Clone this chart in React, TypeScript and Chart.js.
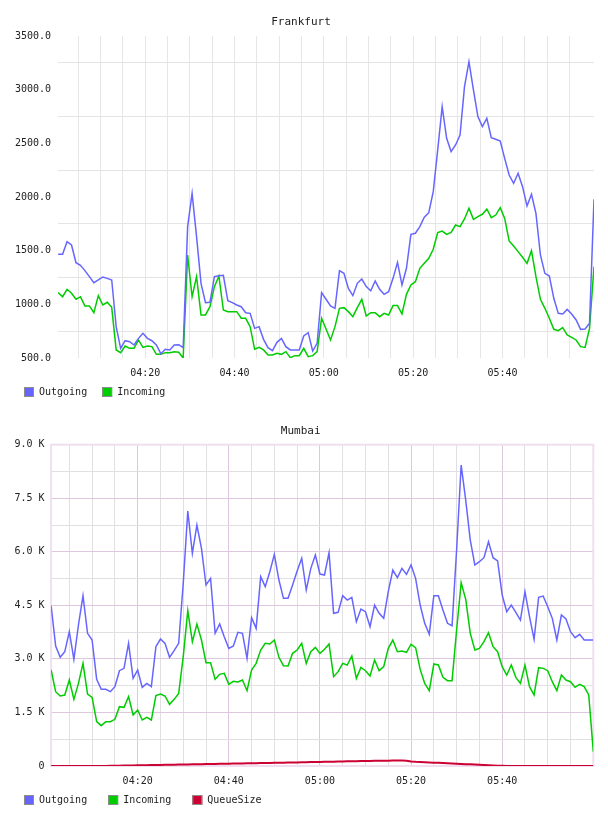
import React, { useEffect, useRef } from 'react';
import { Chart, registerables } from 'chart.js';

Chart.register(...registerables);

const FONT = '"DejaVu Sans Mono", "Liberation Mono", monospace';
const TEXT = '#222222';

const OUT_COLOR = '#6666ff';
const IN_COLOR = '#00cc00';
const QUEUE_COLOR = '#cc0033';

// Time axis, in minutes after 04:00
const gridMinutes = [5, 10, 15, 20, 25, 30, 35, 40, 45, 50, 55, 60, 65, 70, 75, 80, 85, 90, 95, 100, 105, 110, 115];
const labelMinutes = [20, 40, 60, 80, 100];

// ---- Frankfurt: one sample per minute, first sample at 04:00:30 ----
const frankfurtStart = 0.5;
const frankfurtOutgoing = [
  1466, 1466, 1584, 1553, 1388, 1363, 1314, 1258, 1202, 1227,
  1255, 1242, 1227, 792, 590, 661, 652, 621, 683, 730,
  683, 661, 621, 540, 581, 575, 621, 624, 596, 1724,
  2034, 1631, 1196, 1016, 1019, 1258, 1267, 1270, 1034, 1016,
  994, 978, 922, 916, 776, 792, 674, 596, 568, 646,
  683, 606, 575, 575, 575, 705, 736, 565, 637, 1109,
  1047, 985, 963, 1314, 1289, 1149, 1081, 1196, 1236, 1165,
  1127, 1217, 1140, 1093, 1118, 1242, 1391, 1180, 1336, 1652,
  1662, 1724, 1811, 1854, 2050, 2438, 2842, 2547, 2423, 2485,
  2578, 3028, 3261, 2997, 2749, 2656, 2733, 2553, 2538, 2522,
  2360, 2205, 2128, 2221, 2096, 1916, 2025, 1848, 1460, 1289,
  1264, 1056, 916, 910, 953, 910, 854, 767, 770, 823,
  1978,
];
const frankfurtIncoming = [
  1109, 1071, 1140, 1103, 1047, 1071, 985, 985, 922, 1081,
  994, 1019, 972, 575, 550, 612, 590, 590, 668, 599,
  612, 606, 534, 534, 550, 550, 559, 553, 500, 1460,
  1071, 1258, 901, 901, 978, 1165, 1264, 947, 932, 932,
  932, 870, 870, 792, 581, 599, 575, 528, 528, 543,
  534, 559, 503, 522, 522, 590, 512, 522, 559, 870,
  770, 668, 792, 963, 969, 932, 885, 969, 1047, 891,
  922, 922, 885, 916, 901, 988, 988, 910, 1093, 1180,
  1211, 1336, 1382, 1429, 1513, 1668, 1683, 1652, 1671, 1739,
  1724, 1795, 1895, 1792, 1817, 1839, 1888, 1808, 1832, 1901,
  1801, 1590, 1544, 1491, 1438, 1382, 1500, 1258, 1047, 963,
  870, 767, 755, 783, 714, 693, 668, 606, 599, 776,
  1351,
];
const frankfurtLabelValues = [500, 1000, 1500, 2000, 2500, 3000, 3500];
const frankfurtGridValues = [750, 1250, 1750, 2250, 2750, 3250];

// ---- Mumbai: one sample per minute, 04:01 .. 06:00 ----
const mumbaiStart = 1;
const mumbaiOutgoing = [
  4491, 3361, 3044, 3202, 3762, 2988, 3949, 4771, 3716, 3529,
  2427, 2147, 2147, 2082, 2222, 2670, 2735, 3436, 2455, 2689,
  2203, 2315, 2222, 3342, 3557, 3436, 3044, 3230, 3436, 5116,
  7142, 5956, 6750, 6096, 5069, 5256, 3716, 3977, 3622, 3296,
  3361, 3744, 3716, 3016, 4155, 3856, 5303, 5023, 5443, 5928,
  5209, 4696, 4696, 5069, 5462, 5816, 4929, 5536, 5910, 5378,
  5350, 5975, 4276, 4304, 4771, 4649, 4724, 4042, 4397, 4323,
  3902, 4509, 4276, 4136, 4883, 5490, 5275, 5536, 5368, 5630,
  5256, 4509, 3996, 3688, 4771, 4771, 4369, 3996, 3930, 6050,
  8430, 7450, 6330, 5630, 5723, 5835, 6283, 5835, 5742, 4789,
  4323, 4509, 4304, 4089, 4883, 4183, 3548, 4724, 4761, 4463,
  4136, 3529, 4229, 4117, 3762, 3594, 3688, 3529, 3529, 3529,
];
const mumbaiIncoming = [
  2689, 2082, 1961, 1989, 2409, 1867, 2315, 2875, 2017, 1923,
  1242, 1130, 1242, 1242, 1307, 1662, 1643, 1942, 1428, 1568,
  1288, 1363, 1288, 1970, 2017, 1961, 1727, 1867, 2035, 3062,
  4351, 3482, 3977, 3529, 2894, 2894, 2427, 2567, 2595, 2287,
  2371, 2353, 2409, 2110, 2689, 2875, 3249, 3436, 3417, 3529,
  3044, 2810, 2801, 3156, 3249, 3436, 2875, 3202, 3324, 3156,
  3268, 3417, 2502, 2642, 2875, 2829, 3081, 2455, 2763, 2670,
  2521, 2969, 2670, 2782, 3296, 3529, 3202, 3221, 3184, 3408,
  3314, 2707, 2315, 2110, 2857, 2829, 2483, 2390, 2390, 3809,
  5135, 4668, 3716, 3249, 3296, 3482, 3734, 3342, 3202, 2782,
  2549, 2829, 2483, 2315, 2829, 2222, 1989, 2754, 2735, 2670,
  2362, 2110, 2549, 2409, 2362, 2203, 2287, 2222, 1989, 401,
];
const mumbaiQueue = [
  0, 0, 0, 0, 0, 0, 0, 0, 0, 0,
  0, 0, 2, 4, 6, 9, 11, 13, 15, 18,
  20, 22, 25, 27, 29, 32, 34, 36, 39, 41,
  43, 46, 48, 50, 53, 55, 58, 60, 62, 65,
  67, 70, 72, 74, 77, 79, 82, 84, 86, 89,
  91, 94, 96, 99, 101, 104, 106, 109, 111, 114,
  117, 120, 122, 125, 127, 130, 132, 134, 137, 139,
  141, 144, 146, 148, 150, 152, 153, 154, 150, 128,
  116, 110, 104, 98, 93, 88, 82, 76, 70, 64,
  58, 52, 46, 40, 34, 28, 22, 16, 10, 5,
  2, 0, 0, 0, 0, 0, 0, 0, 0, 0,
  0, 0, 0, 0, 0, 0, 0, 0, 0, 0,
];
const mumbaiLabelValues = [0, 1500, 3000, 4500, 6000, 7500, 9000];
const mumbaiGridValues = [750, 2250, 3750, 5250, 6750, 8250];

const pad2 = (n: number) => String(n).padStart(2, '0');
const clock = (m: number) => `${pad2(4 + Math.floor(m / 60))}:${pad2(m % 60)}`;

const toPoints = (start: number, values: number[]) => values.map((v, i) => ({ x: start + i, y: v }));

const tickFont = { family: FONT, size: 10 };

// Legend drawn as small bordered squares followed by the series name
const boxLegend = {
  id: 'boxLegend',
  afterDraw(chart: any, _args: any, opts: any) {
    const { ctx } = chart;
    ctx.save();
    ctx.font = `10px ${FONT}`;
    ctx.textBaseline = 'middle';
    ctx.textAlign = 'left';
    let x = opts.x;
    const y = opts.y;
    chart.data.datasets.forEach((ds: any) => {
      ctx.fillStyle = ds.borderColor;
      ctx.fillRect(x, y, 10, 10);
      ctx.strokeStyle = '#8c8c8c';
      ctx.lineWidth = 1;
      ctx.strokeRect(x + 0.5, y + 0.5, 9, 9);
      ctx.fillStyle = TEXT;
      ctx.fillText(ds.label, x + 15, y + 5.5);
      x += 15 + ctx.measureText(ds.label).width + opts.gap;
    });
    ctx.restore();
  },
};

// Thin frame round the plotting area
const plotFrame = {
  id: 'plotFrame',
  beforeDatasetsDraw(chart: any, _args: any, opts: any) {
    if (!opts.color) return;
    const { ctx, chartArea: a } = chart;
    ctx.save();
    ctx.strokeStyle = opts.color;
    ctx.lineWidth = 2;
    ctx.strokeRect(a.left, a.top, a.right - a.left, a.bottom - a.top);
    ctx.restore();
  },
};

function timeAxis(min: number, max: number, gridColor: (v: number) => string) {
  return {
    type: 'linear' as const,
    min,
    max,
    afterBuildTicks: (scale: any) => {
      scale.ticks = gridMinutes.map((v) => ({ value: v }));
    },
    ticks: {
      autoSkip: false,
      maxRotation: 0,
      padding: 9,
      color: TEXT,
      font: tickFont,
      callback: (v: any) => (labelMinutes.includes(v) ? clock(v) : ''),
    },
    grid: {
      drawTicks: false,
      lineWidth: 1,
      color: (c: any) => gridColor(c.tick ? c.tick.value : 0),
    },
    border: { display: false },
  };
}

function valueAxis(
  min: number,
  max: number,
  labels: number[],
  grid: number[],
  pad: number,
  fmt: (v: number) => string,
  gridColor: (v: number) => string,
) {
  const all = [...labels, ...grid].sort((a, b) => a - b);
  return {
    min,
    max,
    afterBuildTicks: (scale: any) => {
      scale.ticks = all.map((v) => ({ value: v }));
    },
    ticks: {
      autoSkip: false,
      padding: pad,
      color: TEXT,
      font: tickFont,
      callback: (v: any) => (labels.includes(v) ? fmt(v) : ''),
    },
    grid: {
      drawTicks: false,
      lineWidth: 1,
      color: (c: any) => gridColor(c.tick ? c.tick.value : 0),
    },
    border: { display: false },
  };
}

function line(label: string, color: string, points: { x: number; y: number }[], width = 1.5) {
  return {
    label,
    data: points,
    borderColor: color,
    backgroundColor: color,
    borderWidth: width,
    pointRadius: 0,
    tension: 0,
    fill: false,
  };
}

function frankfurtConfig(): any {
  return {
    type: 'line',
    data: {
      datasets: [
        line('Outgoing', OUT_COLOR, toPoints(frankfurtStart, frankfurtOutgoing)),
        line('Incoming', IN_COLOR, toPoints(frankfurtStart, frankfurtIncoming)),
      ],
    },
    options: {
      responsive: true,
      maintainAspectRatio: false,
      animation: false,
      layout: { padding: { left: 0, right: 6, top: 0, bottom: 20 } },
      scales: {
        x: timeAxis(frankfurtStart, frankfurtStart + frankfurtOutgoing.length - 1, () => '#e6e6e6'),
        y: valueAxis(
          500,
          3500,
          frankfurtLabelValues,
          frankfurtGridValues,
          7,
          (v) => v.toFixed(1),
          (v) => (frankfurtGridValues.includes(v) ? '#e4e4e4' : 'rgba(0,0,0,0)'),
        ),
      },
      plugins: {
        legend: { display: false },
        tooltip: { enabled: false },
        title: {
          display: true,
          text: 'Frankfurt',
          color: TEXT,
          font: { family: FONT, size: 11, weight: 'normal' },
          padding: { top: 7.4, bottom: 7.4 },
        },
        boxLegend: { x: 16, y: 379, gap: 15 },
        plotFrame: { color: '' },
      },
    },
    plugins: [plotFrame, boxLegend],
  };
}

function mumbaiConfig(): any {
  const major = '#dfc6df';
  const minor = '#e2dfe2';
  return {
    type: 'line',
    data: {
      datasets: [
        line('Outgoing', OUT_COLOR, toPoints(mumbaiStart, mumbaiOutgoing)),
        line('Incoming', IN_COLOR, toPoints(mumbaiStart, mumbaiIncoming)),
        line('QueueSize', QUEUE_COLOR, toPoints(mumbaiStart, mumbaiQueue), 2),
      ],
    },
    options: {
      responsive: true,
      maintainAspectRatio: false,
      animation: false,
      layout: { padding: { left: 0, right: 6.7, top: 0, bottom: 10 } },
      scales: {
        x: timeAxis(mumbaiStart, mumbaiStart + mumbaiOutgoing.length - 1, (v) =>
          labelMinutes.includes(v) ? major : minor,
        ),
        y: valueAxis(
          0,
          9000,
          mumbaiLabelValues,
          mumbaiGridValues,
          6.5,
          (v) => (v === 0 ? '0' : `${(v / 1000).toFixed(1)} K`),
          (v) => (mumbaiLabelValues.includes(v) ? major : minor),
        ),
      },
      plugins: {
        legend: { display: false },
        tooltip: { enabled: false },
        title: {
          display: true,
          text: 'Mumbai',
          color: TEXT,
          font: { family: FONT, size: 11, weight: 'normal' },
          padding: { top: 16.9, bottom: 6.6 },
        },
        boxLegend: { x: 16, y: 387, gap: 21 },
        plotFrame: { color: '#efdfef' },
      },
    },
    plugins: [plotFrame, boxLegend],
  };
}

export default function App() {
  const topRef = useRef<HTMLCanvasElement | null>(null);
  const bottomRef = useRef<HTMLCanvasElement | null>(null);

  useEffect(() => {
    const charts: Chart[] = [];
    if (topRef.current) charts.push(new Chart(topRef.current, frankfurtConfig()));
    if (bottomRef.current) charts.push(new Chart(bottomRef.current, mumbaiConfig()));
    return () => charts.forEach((c) => c.destroy());
  }, []);

  return (
    <div style={{ width: 592 }}>
      <div style={{ position: 'relative', width: 592, height: 400 }}>
        <canvas ref={topRef} />
      </div>
      <div style={{ position: 'relative', width: 592, height: 398 }}>
        <canvas ref={bottomRef} />
      </div>
    </div>
  );
}
